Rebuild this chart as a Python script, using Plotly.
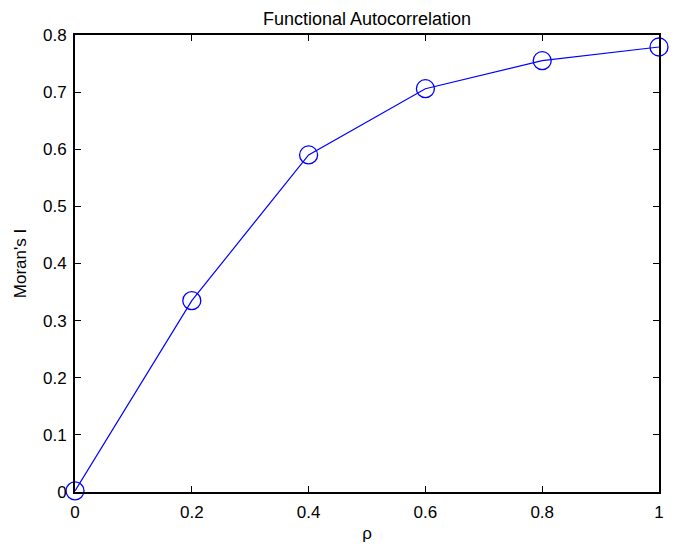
import plotly.graph_objects as go

rho = [0, 0.2, 0.4, 0.6, 0.8, 1.0]
morans_i = [0.002, 0.335, 0.590, 0.706, 0.755, 0.779]
x_ticks = [0, 0.2, 0.4, 0.6, 0.8, 1]
y_ticks = [0, 0.1, 0.2, 0.3, 0.4, 0.5, 0.6, 0.7, 0.8]

FONT = "Liberation Sans, Arial, Helvetica, sans-serif"
FIG_W, FIG_H = 667, 543  # page body adds 8px margin on each side -> 683x559

fig = go.Figure()
fig.add_trace(go.Scatter(
    x=rho, y=morans_i, mode="lines+markers",
    line=dict(color="rgb(0,0,255)", width=1.2),
    marker=dict(symbol="circle-open", size=18, color="rgb(0,0,255)",
                line=dict(width=1.3, color="rgb(0,0,255)")),
    cliponaxis=False, showlegend=False,
))

axis_common = dict(
    showgrid=False, zeroline=False, showline=True, linecolor="black", linewidth=2,
    mirror="ticks", ticks="inside", ticklen=6, tickwidth=1.3, tickcolor="black",
    tickfont=dict(family=FONT, size=17, color="black"),
)
fig.update_xaxes(range=[0, 1], tickvals=x_ticks, ticktext=[str(v) for v in x_ticks],
                 ticklabelstandoff=4,
                 title=dict(text="ρ", font=dict(family=FONT, size=17, color="black"), standoff=6),
                 **axis_common)
fig.update_yaxes(range=[0, 0.8], tickvals=y_ticks, ticktext=[str(v) for v in y_ticks],
                 ticklabelstandoff=3,
                 title=dict(text="Moran's I", font=dict(family=FONT, size=17, color="black"), standoff=12),
                 **axis_common)
fig.update_layout(
    width=FIG_W, height=FIG_H,
    margin=dict(l=65, r=11, t=27, b=52),
    plot_bgcolor="white", paper_bgcolor="white",
    title=dict(text="Functional Autocorrelation", x=0.5, xref="paper", xanchor="center",
               y=1 - 11 / FIG_H, yref="container", yanchor="middle",
               font=dict(family=FONT, size=18, color="black")),
)
fig.write_html("out.html", config={"displayModeBar": False})
